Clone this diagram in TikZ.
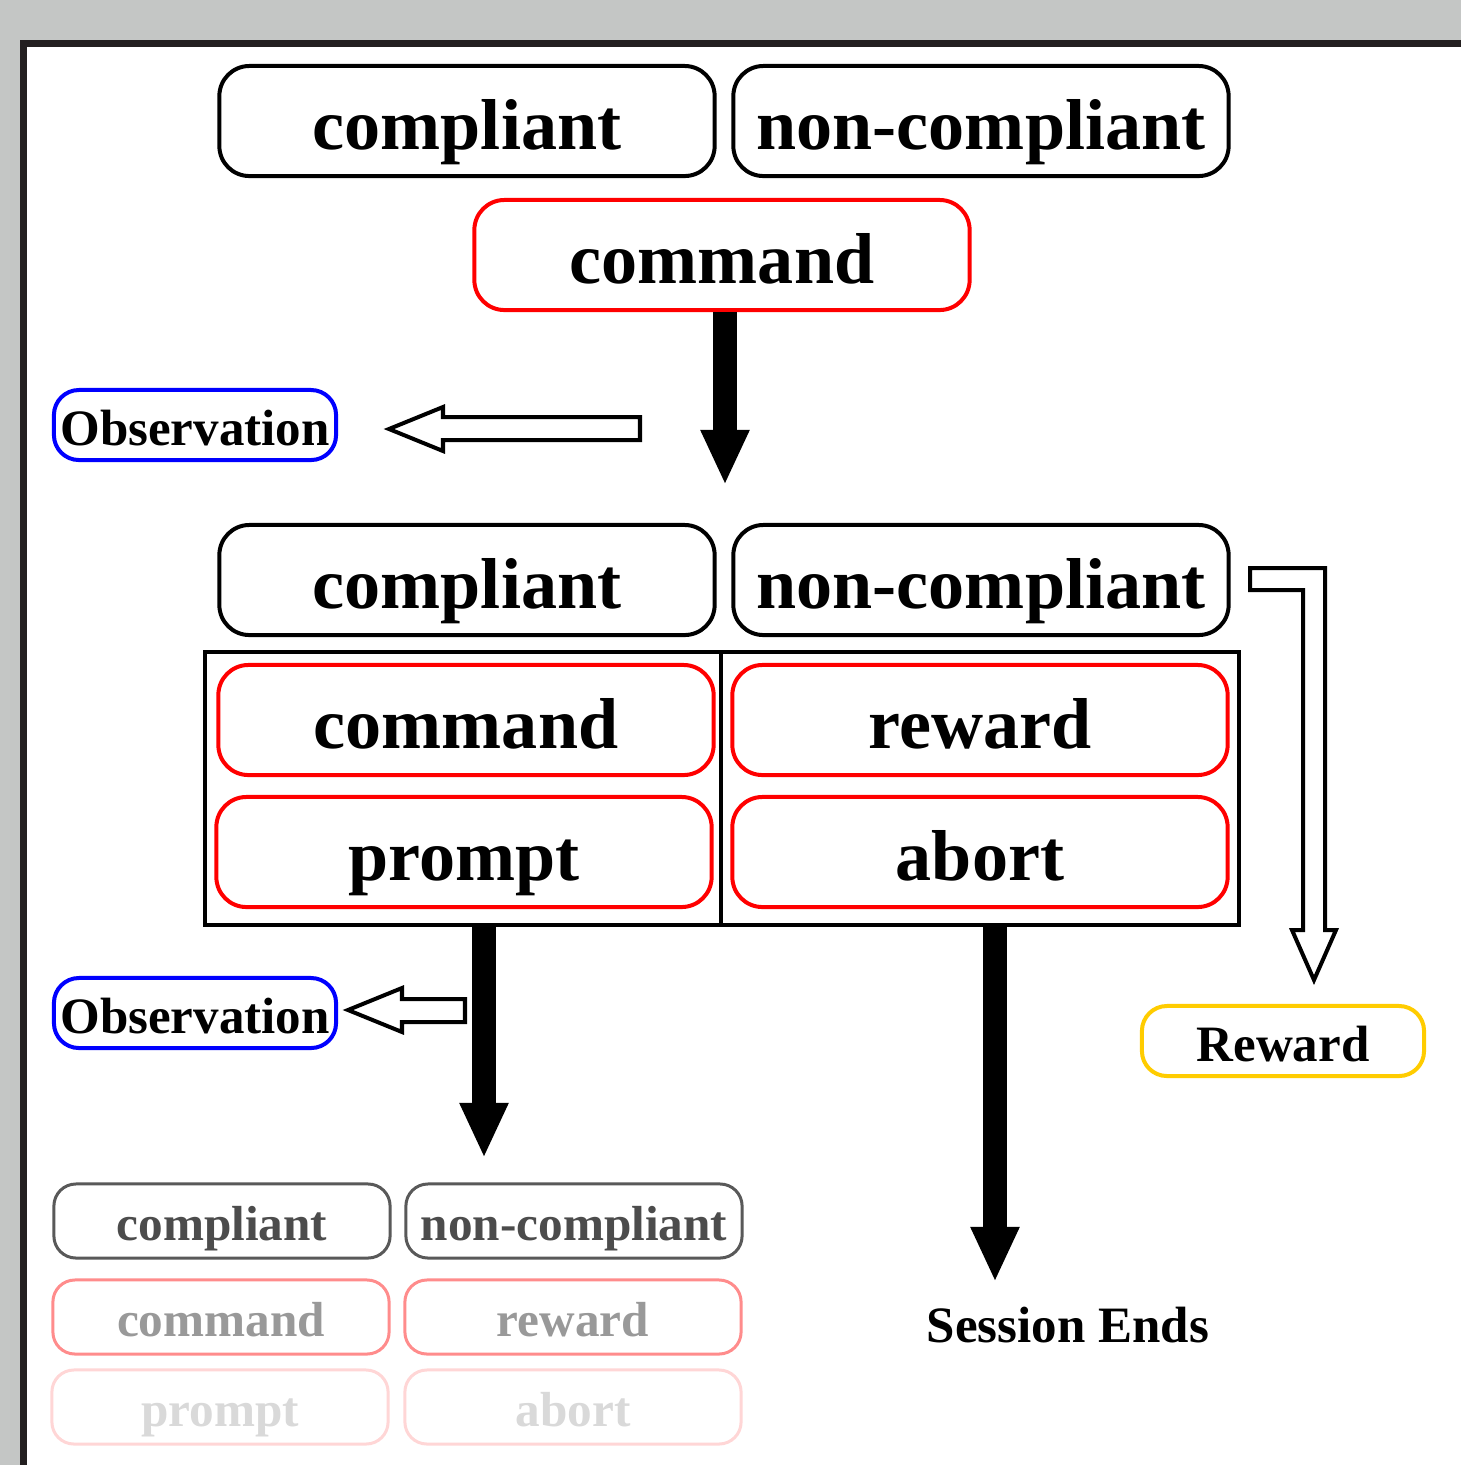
\documentclass[tikz,border=0pt]{standalone}
\usepackage{fontspec}
\setmainfont{Liberation Serif}
\usetikzlibrary{arrows.meta}
\definecolor{bggray}{HTML}{C4C6C5}
\definecolor{framegray}{HTML}{231F20}
\definecolor{rewardyellow}{HTML}{FFCC00}
\definecolor{fadered}{HTML}{FF8C8C}
\definecolor{palered}{HTML}{FFD6D6}
\begin{document}
\begin{tikzpicture}[x=0.01cm,y=-0.01cm,
  box/.style={draw, rounded corners=0.3cm, line width=0.04cm, minimum width=4.95cm,
    minimum height=1.1cm, inner sep=0pt, text height=0.62cm, text depth=0.06cm,
    font=\fontsize{20.5}{24}\selectfont\bfseries},
  cmdbox/.style={box, draw=red},
  obsbox/.style={draw=blue, rounded corners=0.25cm, line width=0.04cm, minimum width=2.82cm,
    minimum height=0.7cm, inner sep=0pt, text height=0.42cm, text depth=0.02cm,
    font=\fontsize{14.5}{17}\selectfont\bfseries},
  smallbox/.style={draw, rounded corners=0.22cm, line width=0.03cm, minimum width=3.36cm,
    minimum height=0.74cm, inner sep=0pt, text height=0.42cm, text depth=0.04cm,
    font=\fontsize{14}{17}\selectfont\bfseries},
  bigarrow/.style={line width=0.23cm, -{Triangle[width=0.45cm,length=0.55cm]}},
  hollow/.style={draw, line width=0.04cm, fill=white, line join=miter}]
\useasboundingbox (0,0) rectangle (1461,1465);
\fill[bggray] (0,0) rectangle (1461,1465);
\fill[framegray] (20,40) rectangle (1461,1465);
\fill[white] (27,47) rectangle (1461,1465);

% first round
\node[box] (comp1) at (467,121) {compliant};
\node[box] (noncomp1) at (981,121) {non-compliant};
\node[cmdbox] (cmd1) at (722,255) {command};
\coordinate (down1) at (725,485);
\draw[bigarrow] (cmd1.south -| down1) -- (down1);

\node[obsbox] (obs1) at (195,425) {Observation};
\draw[hollow] (640,417) -- (443,417) -- (443,407) -- (389,429) -- (443,451) -- (443,440) -- (640,440) -- cycle;

% second round
\node[box] (comp2) at (467,580) {compliant};
\node[box] (noncomp2) at (981,580) {non-compliant};
\draw[line width=0.04cm] (205,652) rectangle (1239,925);
\draw[line width=0.04cm] (721,652) -- (721,925);
\node[cmdbox] (cmd2) at (466,720) {command};
\node[cmdbox] (rew2) at (980,720) {reward};
\node[cmdbox] (prm2) at (464,852) {prompt};
\node[cmdbox] (abt2) at (980,852) {abort};

\draw[hollow] (1250,568) -- (1325,568) -- (1325,930) -- (1336,930) -- (1314,980)
  -- (1292,930) -- (1303,930) -- (1303,590) -- (1250,590) -- cycle;
\node[obsbox, draw=rewardyellow] (rew) at (1283,1041) {Reward};

\node[obsbox] (obs2) at (195,1013) {Observation};
\draw[hollow] (465,999) -- (402,999) -- (402,988) -- (348,1010) -- (402,1032) -- (402,1022) -- (465,1022) -- cycle;

\coordinate (down2) at (484,1158);
\coordinate (down3) at (995,1282);
\draw[bigarrow] (484,925) -- (down2);
\draw[bigarrow] (995,925) -- (down3);
\node[font=\fontsize{14.5}{17}\selectfont\bfseries] (ends) at (1068,1325) {Session Ends};

% next round, fading out
\node[smallbox, draw=black!65, text=black!70] (comp3) at (222,1221) {compliant};
\node[smallbox, draw=black!65, text=black!70] (noncomp3) at (574,1221) {non-compliant};
\node[smallbox, draw=fadered, text=black!40] (cmd3) at (221,1317) {command};
\node[smallbox, draw=fadered, text=black!40] (rew3) at (573,1317) {reward};
\node[smallbox, draw=palered, text=black!15] (prm3) at (220,1407) {prompt};
\node[smallbox, draw=palered, text=black!15] (abt3) at (573,1407) {abort};
\end{tikzpicture}
\end{document}
